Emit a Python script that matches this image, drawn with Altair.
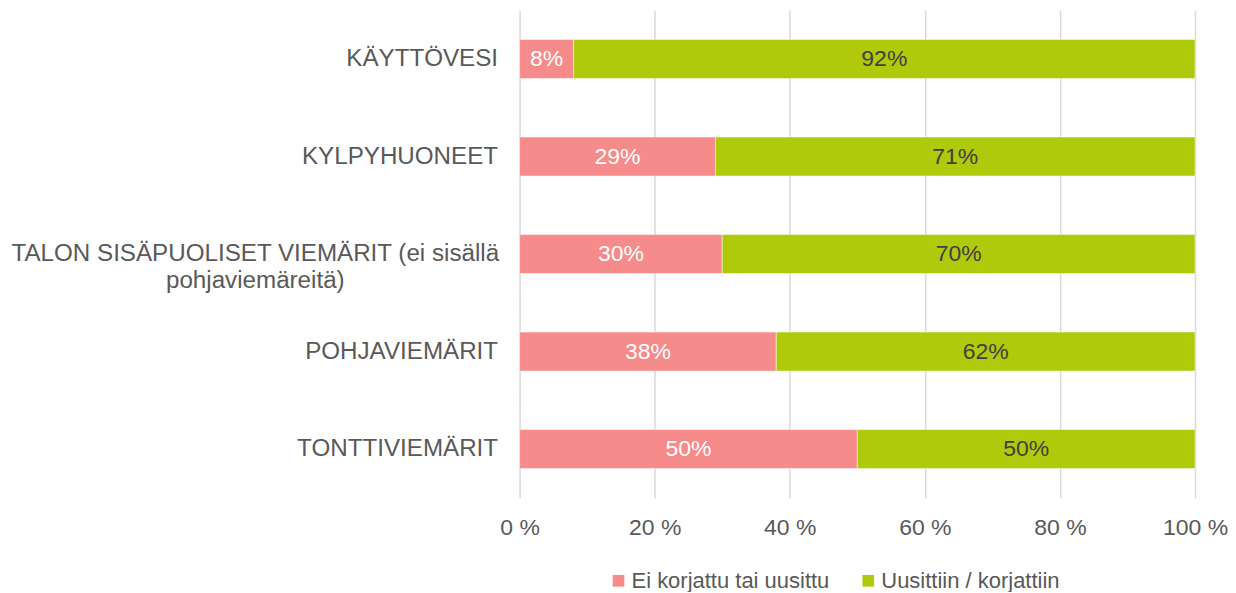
import altair as alt
import pandas as pd

categories = [
    "KÄYTTÖVESI",
    "KYLPYHUONEET",
    "TALON SISÄPUOLISET VIEMÄRIT (ei sisällä|pohjaviemäreitä)",
    "POHJAVIEMÄRIT",
    "TONTTIVIEMÄRIT",
]
series = ["Ei korjattu tai uusittu", "Uusittiin / korjattiin"]
not_repaired = [8, 29, 30, 38, 50]
repaired = [92, 71, 70, 62, 50]
colors = ["#F68B8B", "#AFCA0B"]
label_colors = ["#FFFFFF", "#404040"]
x_ticks = [0, 20, 40, 60, 80, 100]

rows = []
for i, c in enumerate(categories):
    for j, vals in enumerate([not_repaired, repaired]):
        rows.append({
            "cat": c,
            "series": series[j],
            "order": j,
            "value": vals[i],
            "label": f"{vals[i]}%",
            "tcolor": label_colors[j],
        })
df = pd.DataFrame(rows)

FONT = "Liberation Sans"
TXT = "#595959"

x_axis = alt.Axis(
    values=x_ticks, labelExpr="datum.value + ' %'", title=None,
    domain=False, ticks=False, grid=True, gridColor="#D9D9D9", gridWidth=1.5,
    labelFontSize=23, labelColor=TXT, labelPadding=19, labelFont=FONT,
    labelFlush=False, labelOverlap=False,
)

base = alt.Chart(df).transform_stack(
    stack="value", groupby=["cat"], as_=["x0", "x1"],
    sort=[alt.SortField("order", order="ascending")],
).transform_calculate(mid="(datum.x0 + datum.x1) / 2")

yscale = alt.Scale(domain=categories, paddingInner=0.6, paddingOuter=0.3)

bars = base.mark_bar(stroke="#FFFFFF", strokeWidth=0.8, strokeOpacity=0.6).encode(
    x=alt.X("x0:Q", scale=alt.Scale(domain=[0, 100], nice=False), axis=x_axis),
    x2="x1:Q",
    y=alt.Y("cat:N", sort=categories, scale=yscale, axis=alt.Axis(
        title=None, domain=False, ticks=False, grid=False,
        labelExpr="indexof(datum.label, '|') >= 0 ? '' : datum.label",
        labelFontSize=24.2, labelColor=TXT, labelPadding=22, labelFont=FONT,
        labelLimit=600, labelAlign="right",
    )),
    color=alt.Color("series:N", scale=alt.Scale(domain=series, range=colors),
                    legend=alt.Legend(
                        orient="none", legendX=88, legendY=560, direction="horizontal",
                        title=None, symbolType="square", symbolSize=137,
                        symbolStrokeWidth=0, labelFontSize=22, labelColor=TXT,
                        labelFont=FONT, columnPadding=27, labelOffset=2,
                        labelLimit=400,
                    )),
    order=alt.Order("order:Q"),
)

texts = base.mark_text(fontSize=23, font=FONT).encode(
    x=alt.X("mid:Q", scale=alt.Scale(domain=[0, 100], nice=False), axis=x_axis),
    y=alt.Y("cat:N", sort=categories, scale=yscale, axis=alt.Axis(
        orient="left", title=None, domain=False, ticks=False, grid=False,
        labelExpr="indexof(datum.label, '|') >= 0 ? split(datum.label, '|') : ''",
        labelFontSize=24.2, labelColor=TXT, labelPadding=265, labelFont=FONT,
        labelLimit=600, labelAlign="center", labelLineHeight=27,
    )),
    text="label:N",
    color=alt.Color("tcolor:N", scale=None),
)

chart = alt.layer(bars, texts).resolve_axis(y="independent").properties(
    width=676, height=488,
    padding={"left": 2, "top": 2, "right": 0, "bottom": 0},
).configure(font=FONT).configure_view(stroke=None)

chart.save("out.html", embed_options={"renderer": "svg", "actions": False})
